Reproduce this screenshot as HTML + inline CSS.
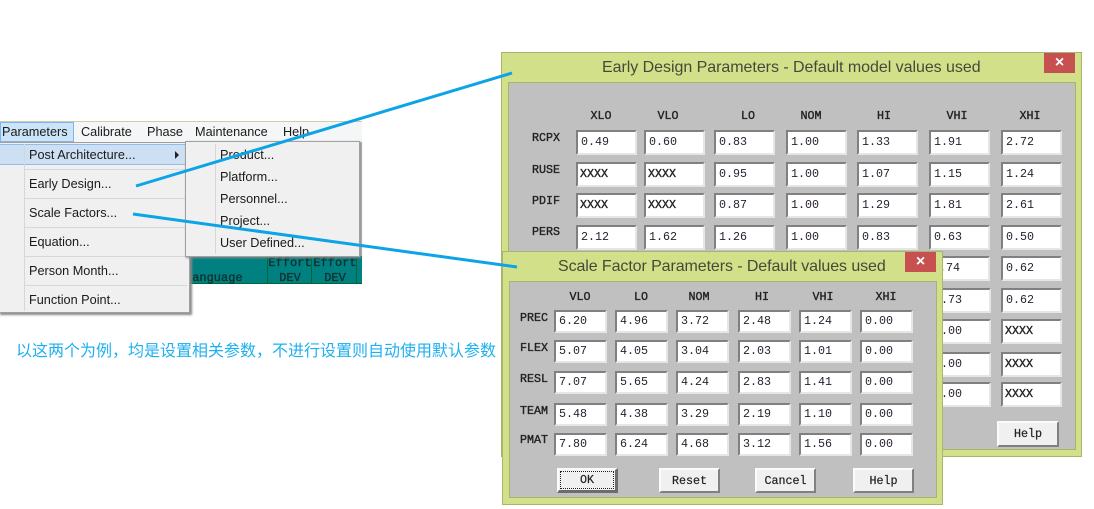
<!DOCTYPE html>
<html lang="zh">
<head>
<meta charset="utf-8">
<title>Early Design and Scale Factor Parameters</title>
<style>
html,body{margin:0;padding:0;background:#fff}
#page{position:relative;width:1094px;height:509px;overflow:hidden;background:#fff;font-family:"Liberation Sans","Noto Sans CJK SC",sans-serif}
#page div,#page span{position:absolute;box-sizing:border-box;white-space:nowrap}
.m{font-size:12.7px;line-height:16px;color:#1a1a1a}
.sep{background:#d7d7d7;height:1px}
.dlg{background:#d2e08a;border:1px solid #a8b56c}
.gray{background:#c0c0c0;border:1px solid #a8b56c}
.title{font-size:16px;line-height:20px;color:#454a38}
.close{background:#c75050;color:#fff;font-size:16px;font-weight:bold;line-height:20px;text-align:center}
.l{font-family:"Liberation Mono",monospace;font-size:11.7px;line-height:14px;color:#222;-webkit-text-stroke:0.35px #222}
.h{width:40px;text-align:center}
.f{width:61px;height:25px;background:#fff;border:2px solid;border-color:#808080 #e6e6e6 #e6e6e6 #808080;font-family:"Liberation Mono",monospace;font-size:11.7px;line-height:20px;padding-left:3px;color:#2a2030}
.s{width:53px;height:23px;line-height:19px}
.x{padding-left:2px;-webkit-text-stroke:0.35px #222;color:#222}
.b{height:25px;background:#f0f0f0;border:2px solid;border-color:#fbfbfb #808080 #808080 #fbfbfb;font-family:"Liberation Mono",monospace;font-size:11.7px;line-height:22px;text-align:center;color:#222;-webkit-text-stroke:0.2px #222}
.tl{font-family:"Liberation Mono",monospace;font-size:12px;line-height:14px;color:#10302e;text-align:center;-webkit-text-stroke:0.35px #10302e}
.cell{background:#008080;border-right:1px solid #063;top:256px;height:28px}
.c1{left:576px}.c2{left:644px}.c3{left:714px}.c4{left:786px}.c5{left:857px}.c6{left:929px}.c7{left:1001px}
.d1{left:554px}.d2{left:615px}.d3{left:676px}.d4{left:738px}.d5{left:799px}.d6{left:860px}
</style>
</head>
<body>
<div id="page">

<div style="left:190px;top:142px;width:172px;height:142px;background:#bdbdbd">
  <div class="cell" style="left:0;top:114px;width:78px;height:28px"></div>
  <div class="cell" style="left:78px;top:114px;width:44px;height:28px"></div>
  <div class="cell" style="left:122px;top:114px;width:45px;height:28px"></div>
  <div class="cell" style="left:167px;top:114px;width:5px;height:28px;border-right:0"></div>
  <div style="left:0;top:141px;width:172px;height:1px;background:#063"></div>
</div>
<div class="tl" style="left:185px;top:271px;width:60px;text-align:left">Language</div>
<div class="tl" style="left:268px;top:256px;width:44px">Effort</div>
<div class="tl" style="left:268px;top:271px;width:44px">DEV</div>
<div class="tl" style="left:313px;top:256px;width:44px">Effort</div>
<div class="tl" style="left:313px;top:271px;width:44px">DEV</div>

<div style="left:0;top:121px;width:362px;height:21px;background:#f5f6f7;border-top:1px solid #c9cfae">
  <div style="left:0;top:0;width:74px;height:20px;background:#cce4f7;border:1px solid #7fb5e8"></div>
</div>
<div class="m" style="left:2px;top:124px">Parameters</div>
<div class="m" style="left:81px;top:124px">Calibrate</div>
<div class="m" style="left:147px;top:124px">Phase</div>
<div class="m" style="left:195px;top:124px">Maintenance</div>
<div class="m" style="left:283px;top:124px">Help</div>

<div style="left:-2px;top:142px;width:192px;height:171px;background:#f0f0f0;border:1px solid #a0a0a0;box-shadow:2px 2px 2px #8a8a8a"></div>
<div style="left:0;top:144px;width:186px;height:21px;background:#cde0f3;border:1px solid #8fbde8;border-left:0"></div>
<div style="left:24px;top:144px;width:1px;height:167px;background:#d7d7d7"></div>
<div class="sep" style="left:25px;top:169px;width:162px"></div>
<div class="sep" style="left:25px;top:198px;width:162px"></div>
<div class="sep" style="left:25px;top:227px;width:162px"></div>
<div class="sep" style="left:25px;top:256px;width:162px"></div>
<div class="sep" style="left:25px;top:285px;width:162px"></div>
<div class="m" style="left:29px;top:147px">Post Architecture...</div>
<div style="left:175px;top:151px;width:0;height:0;border-left:4px solid #222;border-top:4px solid transparent;border-bottom:4px solid transparent"></div>
<div class="m" style="left:29px;top:176px">Early Design...</div>
<div class="m" style="left:29px;top:205px">Scale Factors...</div>
<div class="m" style="left:29px;top:234px">Equation...</div>
<div class="m" style="left:29px;top:263px">Person Month...</div>
<div class="m" style="left:29px;top:292px">Function Point...</div>

<div style="left:185px;top:141px;width:175px;height:116px;background:#f0f0f0;border:1px solid #a0a0a0;box-shadow:1px 1px 2px #8a8a8a"></div>
<div style="left:215px;top:144px;width:1px;height:110px;background:#d7d7d7"></div>
<div class="m" style="left:220px;top:147px">Product...</div>
<div class="m" style="left:220px;top:169px">Platform...</div>
<div class="m" style="left:220px;top:191px">Personnel...</div>
<div class="m" style="left:220px;top:213px">Project...</div>
<div class="m" style="left:220px;top:235px">User Defined...</div>

<div style="left:16px;top:342px;font-size:16px;line-height:20px;color:#1fb0f0;font-family:'Liberation Sans','Noto Sans CJK SC',sans-serif">以这两个为例，均是设置相关参数，不进行设置则自动使用默认参数</div>

<!-- Early Design dialog -->
<div class="dlg" style="left:501px;top:52px;width:581px;height:405px"></div>
<div class="gray" style="left:508px;top:82px;width:568px;height:368px"></div>
<div class="title" style="left:602px;top:58px;letter-spacing:-0.04px">Early Design Parameters - Default model values used</div>
<div class="close" style="left:1044px;top:53px;width:31px;height:20px">×</div>

<div class="l h" style="left:581px;top:109px">XLO</div>
<div class="l h" style="left:648px;top:109px">VLO</div>
<div class="l h" style="left:728px;top:109px">LO</div>
<div class="l h" style="left:791px;top:109px">NOM</div>
<div class="l h" style="left:864px;top:109px">HI</div>
<div class="l h" style="left:937px;top:109px">VHI</div>
<div class="l h" style="left:1010px;top:109px">XHI</div>

<div class="l" style="left:532px;top:131px">RCPX</div>
<div class="l" style="left:532px;top:163px">RUSE</div>
<div class="l" style="left:532px;top:194px">PDIF</div>
<div class="l" style="left:532px;top:225px">PERS</div>

<div class="f c1" style="top:130px">0.49</div>
<div class="f c2" style="top:130px">0.60</div>
<div class="f c3" style="top:130px">0.83</div>
<div class="f c4" style="top:130px">1.00</div>
<div class="f c5" style="top:130px">1.33</div>
<div class="f c6" style="top:130px">1.91</div>
<div class="f c7" style="top:130px">2.72</div>

<div class="f c1 x" style="top:162px">XXXX</div>
<div class="f c2 x" style="top:162px">XXXX</div>
<div class="f c3" style="top:162px">0.95</div>
<div class="f c4" style="top:162px">1.00</div>
<div class="f c5" style="top:162px">1.07</div>
<div class="f c6" style="top:162px">1.15</div>
<div class="f c7" style="top:162px">1.24</div>

<div class="f c1 x" style="top:193px">XXXX</div>
<div class="f c2 x" style="top:193px">XXXX</div>
<div class="f c3" style="top:193px">0.87</div>
<div class="f c4" style="top:193px">1.00</div>
<div class="f c5" style="top:193px">1.29</div>
<div class="f c6" style="top:193px">1.81</div>
<div class="f c7" style="top:193px">2.61</div>

<div class="f c1" style="top:225px">2.12</div>
<div class="f c2" style="top:225px">1.62</div>
<div class="f c3" style="top:225px">1.26</div>
<div class="f c4" style="top:225px">1.00</div>
<div class="f c5" style="top:225px">0.83</div>
<div class="f c6" style="top:225px">0.63</div>
<div class="f c7" style="top:225px">0.50</div>

<div class="f c6" style="top:256px;padding-left:1px">0.74</div>
<div class="f c7" style="top:256px">0.62</div>
<div class="f" style="left:930px;top:288px;padding-left:2px">0.73</div>
<div class="f c7" style="top:288px">0.62</div>
<div class="f" style="left:930px;top:319px;padding-left:2px">1.00</div>
<div class="f c7 x" style="top:319px">XXXX</div>
<div class="f" style="left:930px;top:352px;padding-left:2px">1.00</div>
<div class="f c7 x" style="top:352px">XXXX</div>
<div class="f" style="left:930px;top:382px;padding-left:2px">1.00</div>
<div class="f c7 x" style="top:382px">XXXX</div>
<div class="b" style="left:997px;top:421px;width:62px;height:26px;line-height:23px">Help</div>

<!-- Scale Factor dialog -->
<div class="dlg" style="left:502px;top:251px;width:441px;height:254px"></div>
<div class="gray" style="left:509px;top:281px;width:428px;height:217px"></div>
<div class="title" style="left:558px;top:257px;letter-spacing:-0.09px">Scale Factor Parameters - Default values used</div>
<div class="close" style="left:905px;top:252px;width:31px;height:20px">×</div>

<div class="l h" style="left:560px;top:290px">VLO</div>
<div class="l h" style="left:621px;top:290px">LO</div>
<div class="l h" style="left:679px;top:290px">NOM</div>
<div class="l h" style="left:742px;top:290px">HI</div>
<div class="l h" style="left:803px;top:290px">VHI</div>
<div class="l h" style="left:866px;top:290px">XHI</div>

<div class="l" style="left:520px;top:311px">PREC</div>
<div class="l" style="left:520px;top:341px">FLEX</div>
<div class="l" style="left:520px;top:372px">RESL</div>
<div class="l" style="left:520px;top:404px">TEAM</div>
<div class="l" style="left:520px;top:433px">PMAT</div>

<div class="f s d1" style="top:310px">6.20</div>
<div class="f s d2" style="top:310px">4.96</div>
<div class="f s d3" style="top:310px">3.72</div>
<div class="f s d4" style="top:310px">2.48</div>
<div class="f s d5" style="top:310px">1.24</div>
<div class="f s d6" style="top:310px">0.00</div>

<div class="f s d1" style="top:340px">5.07</div>
<div class="f s d2" style="top:340px">4.05</div>
<div class="f s d3" style="top:340px">3.04</div>
<div class="f s d4" style="top:340px">2.03</div>
<div class="f s d5" style="top:340px">1.01</div>
<div class="f s d6" style="top:340px">0.00</div>

<div class="f s d1" style="top:371px">7.07</div>
<div class="f s d2" style="top:371px">5.65</div>
<div class="f s d3" style="top:371px">4.24</div>
<div class="f s d4" style="top:371px">2.83</div>
<div class="f s d5" style="top:371px">1.41</div>
<div class="f s d6" style="top:371px">0.00</div>

<div class="f s d1" style="top:403px">5.48</div>
<div class="f s d2" style="top:403px">4.38</div>
<div class="f s d3" style="top:403px">3.29</div>
<div class="f s d4" style="top:403px">2.19</div>
<div class="f s d5" style="top:403px">1.10</div>
<div class="f s d6" style="top:403px">0.00</div>

<div class="f s d1" style="top:433px">7.80</div>
<div class="f s d2" style="top:433px">6.24</div>
<div class="f s d3" style="top:433px">4.68</div>
<div class="f s d4" style="top:433px">3.12</div>
<div class="f s d5" style="top:433px">1.56</div>
<div class="f s d6" style="top:433px">0.00</div>

<div class="b" style="left:557px;top:468px;width:61px;border-color:#fbfbfb #6c6c6c #6c6c6c #fbfbfb;border-width:2px 3px 3px 2px;line-height:21px">OK
  <span style="left:1px;top:1px;right:1px;bottom:1px;border:1px dotted #222"></span>
</div>
<div class="b" style="left:659px;top:468px;width:61px">Reset</div>
<div class="b" style="left:755px;top:468px;width:61px">Cancel</div>
<div class="b" style="left:853px;top:468px;width:61px">Help</div>

<svg width="1094" height="509" style="position:absolute;left:0;top:0">
  <line x1="136" y1="186" x2="512" y2="73" stroke="#0ca4e6" stroke-width="3"/>
  <line x1="133" y1="214" x2="517" y2="267" stroke="#0ca4e6" stroke-width="3"/>
</svg>
</div>
</body>
</html>
